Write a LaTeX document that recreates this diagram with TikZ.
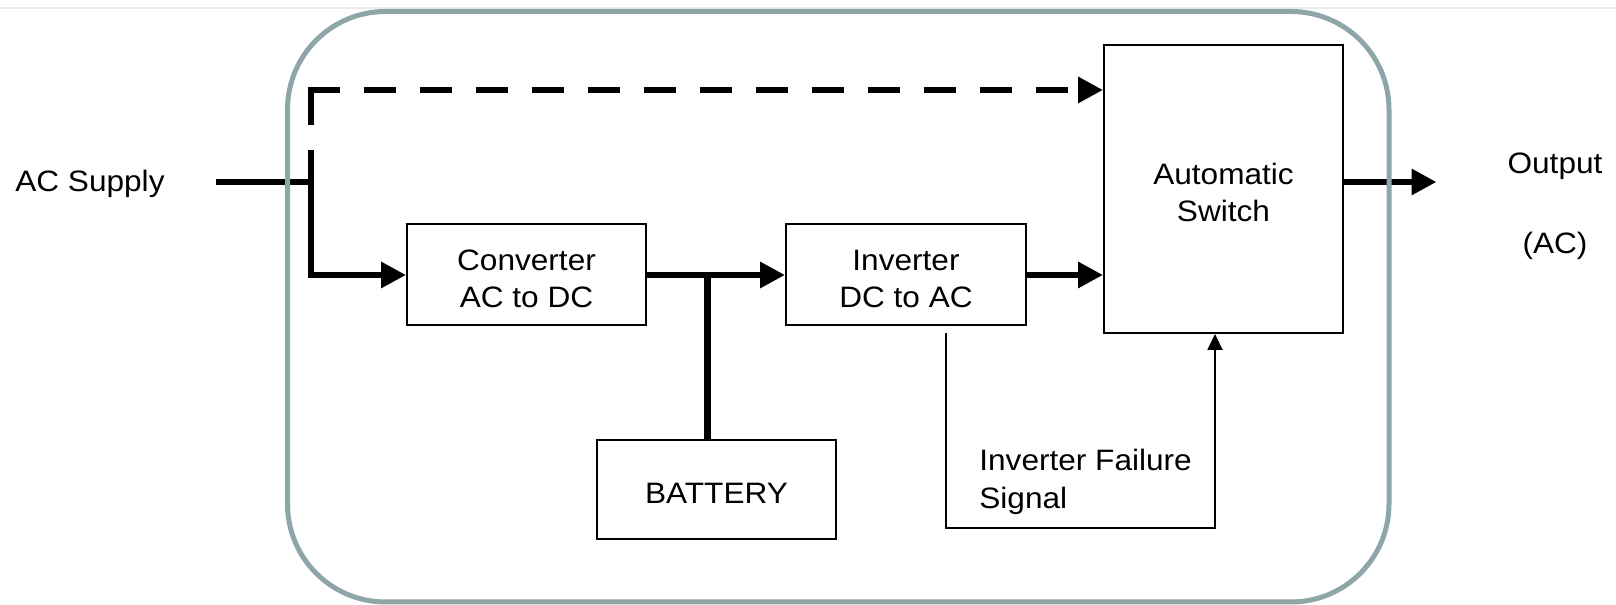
\documentclass[tikz,border=0pt]{standalone}
\usepackage{fontspec}
\setmainfont{Liberation Sans}[FakeStretch=1.07]
\usetikzlibrary{arrows.meta}
\definecolor{UpsFrame}{HTML}{8FA6A9}
\definecolor{UpsRule}{HTML}{EBEBEB}
\newcommand{\upsstrut}{\rule{0pt}{0.56cm}}
\tikzset{
  upsbox/.style={
    draw=black,
    line width=0.04cm,
    align=center,
    minimum width=4.78cm,
    minimum height=2.02cm,
    inner sep=0pt
  },
  upsline/.style={
    line width=0.13cm
  },
  upsarrow/.style={
    -{Triangle[length=0.5cm,width=0.5cm]},
    line width=0.13cm
  },
  upsdash/.style={
    line width=0.13cm,
    dash pattern=on 0.64cm off 0.48cm
  },
  upssig/.style={
    -{Triangle[length=0.32cm,width=0.3cm]},
    line width=0.04cm
  },
  upslabel/.style={
    inner sep=0pt
  }
}

\begin{document}
\begin{tikzpicture}[font=\fontsize{16.8pt}{21.3pt}\selectfont]
  \useasboundingbox (0,0) rectangle (32.32,12.1);
  \draw[UpsRule,line width=0.04cm] (0,11.93) -- (32.32,11.93);

  \node[upsbox] (conv) at (10.53,6.6) {\upsstrut Converter\\AC to DC};
  \node[upsbox,minimum width=4.8cm] (inv) at (18.12,6.6)
    {\upsstrut Inverter\\DC to AC};
  \node[upsbox,minimum height=5.76cm] (sw) at (24.47,8.32)
    {\upsstrut Automatic\\Switch};
  \node[upsbox,minimum height=1.98cm] (bat) at (14.33,2.31)
    {\upsstrut BATTERY};

  \node[upslabel,anchor=base west] (acsup) at (0.3,8.26) {AC Supply};
  \node[upslabel,anchor=north,align=center] (outlbl) at (31.1,9.04)
    {Output\\[24.2pt](AC)};
  \node[upslabel,anchor=north west,align=left] (siglbl) at (19.58,3.12)
    {Inverter Failure\\Signal};

  \coordinate (acin) at (4.32,8.46);
  \coordinate (jn) at (6.22,8.46);
  \coordinate (cn) at (6.22,10.3);
  \coordinate (jb) at (14.15,6.6);
  \coordinate (outtip) at (28.73,8.46);
  \coordinate (sigA) at (18.91,5.44);
  \coordinate (sigB) at (24.3,1.54);

  \draw[upsarrow] (acin) -- (jn) |- (conv.west);
  \draw[upsdash,dash pattern=on 0.64cm off 0.5cm on 1cm off 1cm] (jn) -- (cn);
  \draw[upsdash,-{Triangle[length=0.5cm,width=0.5cm]}]
    ([xshift=-0.065cm]cn) -- (cn -| sw.west);
  \draw[upsarrow] (conv.east) -- (inv.west);
  \draw[upsline] (jb) -- (jb |- bat.north);
  \draw[upsarrow] (inv.east) -- (inv.east -| sw.west);
  \draw[upsarrow] (sw.east |- outtip) -- (outtip);
  \draw[upssig] (sigA) |- (sigB) -- (sigB |- sw.south);

  \draw[UpsFrame,line width=0.1cm,rounded corners=1.96cm]
    (5.75,11.87) rectangle (27.78,0.06);
\end{tikzpicture}
\end{document}
